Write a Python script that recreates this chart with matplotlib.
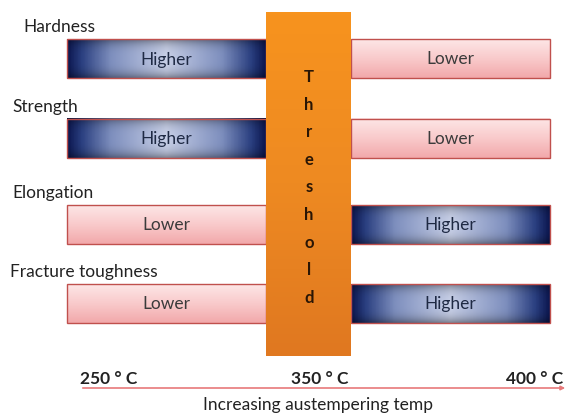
import numpy as np
import matplotlib
matplotlib.use("Agg")
import matplotlib.pyplot as plt
from matplotlib.patches import Rectangle, FancyArrowPatch
from matplotlib.colors import LinearSegmentedColormap

# ---- data ----
properties = ["Hardness", "Strength", "Elongation", "Fracture toughness"]
left_state = ["Higher", "Higher", "Lower", "Lower"]
right_state = ["Lower", "Lower", "Higher", "Higher"]
temp_labels = ["250 \u00b0 C", "350 \u00b0 C", "400 \u00b0 C"]
threshold_word = "Threshold"
axis_title = "Increasing austempering temp"

plt.rcParams['font.family'] = ['Lato', 'DejaVu Sans']

W, H = 570, 414
fig = plt.figure(figsize=(W / 100, H / 100), dpi=100)
ax = fig.add_axes([0, 0, 1, 1])
ax.set_xlim(0, W)
ax.set_ylim(H, 0)
ax.axis("off")

FS = 12.5

# layout (pixel coords)
bar_tops = [40, 120, 206, 285]
bar_h = 39
left_x0, left_x1 = 67, 266
right_x0, right_x1 = 351, 550
label_x = [23, 12, 12, 10]

blue_cmap = LinearSegmentedColormap.from_list(
    "b", [(0.0, "#0C1750"), (0.07, "#2A3F80"), (0.22, "#7E8FBE"),
          (0.5, "#C6CEE6"), (0.78, "#7E8FBE"), (0.93, "#2A3F80"), (1.0, "#0C1750")])
pink_cmap = LinearSegmentedColormap.from_list("p", ["#FDE6E6", "#F9CACB", "#F2A9AB"])


def grad_bar(x0, x1, y0, h, kind, text):
    if kind == "Higher":
        g = np.linspace(0, 1, 200)[None, :]
        g = np.repeat(g, 30, axis=0)
        img = blue_cmap(g)
        v = np.linspace(-1, 1, 30)[:, None]
        shade = 1 - 0.35 * np.abs(v) ** 3
        img[..., :3] *= shade[..., None]
    else:
        g = np.linspace(0, 1, 40)[:, None]
        g = np.repeat(g, 10, axis=1)
        img = pink_cmap(g)
    ax.imshow(img, extent=[x0, x1, y0 + h, y0], aspect="auto",
              interpolation="bilinear", zorder=2)
    ax.add_patch(Rectangle((x0, y0), x1 - x0, h, fill=False,
                           edgecolor="#C0504D", lw=1.0, zorder=3))
    ax.text((x0 + x1) / 2, y0 + h / 2, text, ha="center", va="center",
            fontsize=FS, color="#3B3B3B" if kind == "Lower" else "#1F2A44",
            zorder=4)


for i, prop in enumerate(properties):
    ax.text(label_x[i], bar_tops[i] - 13, prop, ha="left", va="center",
            fontsize=FS, color="#222222")
    grad_bar(left_x0, left_x1, bar_tops[i], bar_h, left_state[i], left_state[i])
    grad_bar(right_x0, right_x1, bar_tops[i], bar_h, right_state[i], right_state[i])

# threshold column
orange_cmap = LinearSegmentedColormap.from_list("o", ["#F7931E", "#EE8A22", "#E07820"])
g = np.linspace(0, 1, 60)[:, None]
ax.imshow(orange_cmap(np.repeat(g, 5, axis=1)), extent=[266, 351, 357, 13],
          aspect="auto", interpolation="bilinear", zorder=5)
for j, ch in enumerate(threshold_word):
    ax.text(309, 77 + j * 27.6, ch.upper() if j == 0 else ch, ha="center",
            va="center", fontsize=12, fontweight="bold", color="#2A1605", zorder=6)

# temperature axis
arrow = FancyArrowPatch((80, 389), (568, 389), arrowstyle="-|>", mutation_scale=6,
                        color="#E8797A", lw=1.2, zorder=2)
ax.add_patch(arrow)
temp_x = [80, 320, 563]
temp_ha = ["left", "center", "right"]
for x, lab, ha in zip(temp_x, temp_labels, temp_ha):
    ax.text(x, 379, lab, ha=ha, va="center", fontsize=FS, fontweight="bold",
            color="#222222")
ax.text(318, 405, axis_title, ha="center", va="center", fontsize=FS,
        color="#222222")

fig.savefig("out.png", dpi=100)
